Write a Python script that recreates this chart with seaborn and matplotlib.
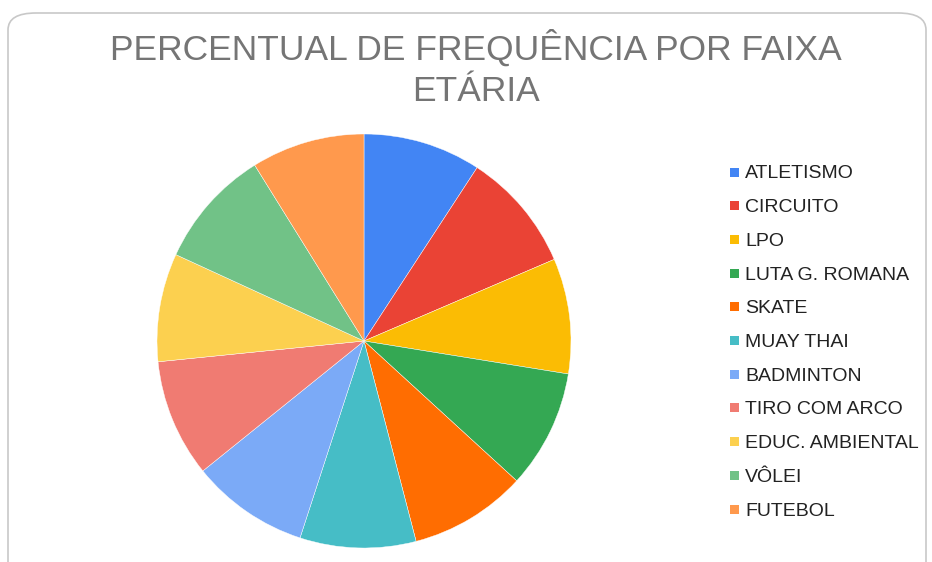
import matplotlib
matplotlib.use("Agg")
import matplotlib.pyplot as plt
from matplotlib.patches import FancyBboxPatch, Rectangle
import seaborn as sns

categories = ["ATLETISMO", "CIRCUITO", "LPO", "LUTA G. ROMANA", "SKATE", "MUAY THAI",
              "BADMINTON", "TIRO COM ARCO", "EDUC. AMBIENTAL", "VÔLEI", "FUTEBOL"]
values = [9.2, 9.35, 9.0, 9.25, 9.15, 9.05, 9.2, 9.2, 8.45, 9.3, 8.85]
colors = ["#4285F4", "#EA4335", "#FBBC04", "#34A853", "#FF6D01", "#46BDC6",
          "#7BAAF7", "#F07B72", "#FCD04F", "#71C287", "#FF994D"]
title_lines = ["PERCENTUAL DE FREQUÊNCIA POR FAIXA", "ETÁRIA"]

sns.set_theme(style="white")
plt.rcParams["font.family"] = ["Liberation Sans", "DejaVu Sans"]
palette = sns.color_palette(colors)

W, H = 932, 562
fig = plt.figure(figsize=(W / 100, H / 100), dpi=100)
fig.patch.set_facecolor("white")

# rounded frame (behind everything)
frame = FancyBboxPatch((8 / W, -0.05), (926 - 8) / W, (H - 13) / H + 0.05,
                       boxstyle="round,pad=0,rounding_size=0.03",
                       transform=fig.transFigure, facecolor="white",
                       edgecolor="#c8c8c8", linewidth=1.2, zorder=-10)
fig.patches.append(frame)

cx, cy, r = 364, 341, 207
ax = fig.add_axes([(cx - r) / W, (H - cy - r) / H, 2 * r / W, 2 * r / H])
ax.set_zorder(5)
ax.patch.set_alpha(0)
ax.pie(values, colors=palette, startangle=90, counterclock=False,
       wedgeprops=dict(linewidth=0.3, edgecolor="white"))
ax.set_xlim(-1, 1)
ax.set_ylim(-1, 1)
ax.set_aspect("auto")
ax.axis("off")

fig.text(476 / W, 1 - 60 / H, title_lines[0], ha="center",
         va="baseline", fontsize=25.5, color="#757575", zorder=6)
fig.text(476 / W, 1 - 101 / H, title_lines[1], ha="center",
         va="baseline", fontsize=25.5, color="#757575", zorder=6)

# legend
y0, dy = 172, 33.7
for i, (lab, col) in enumerate(zip(categories, palette)):
    y = y0 + i * dy
    fig.patches.append(Rectangle((730 / W, 1 - (y + 4.5) / H), 9 / W, 9 / H,
                                 transform=fig.transFigure, facecolor=col,
                                 edgecolor="none", zorder=6))
    fig.text(745 / W, 1 - y / H, lab, ha="left", va="center_baseline",
             fontsize=14, color="#222222", zorder=6)

fig.savefig("out.png", dpi=100)
